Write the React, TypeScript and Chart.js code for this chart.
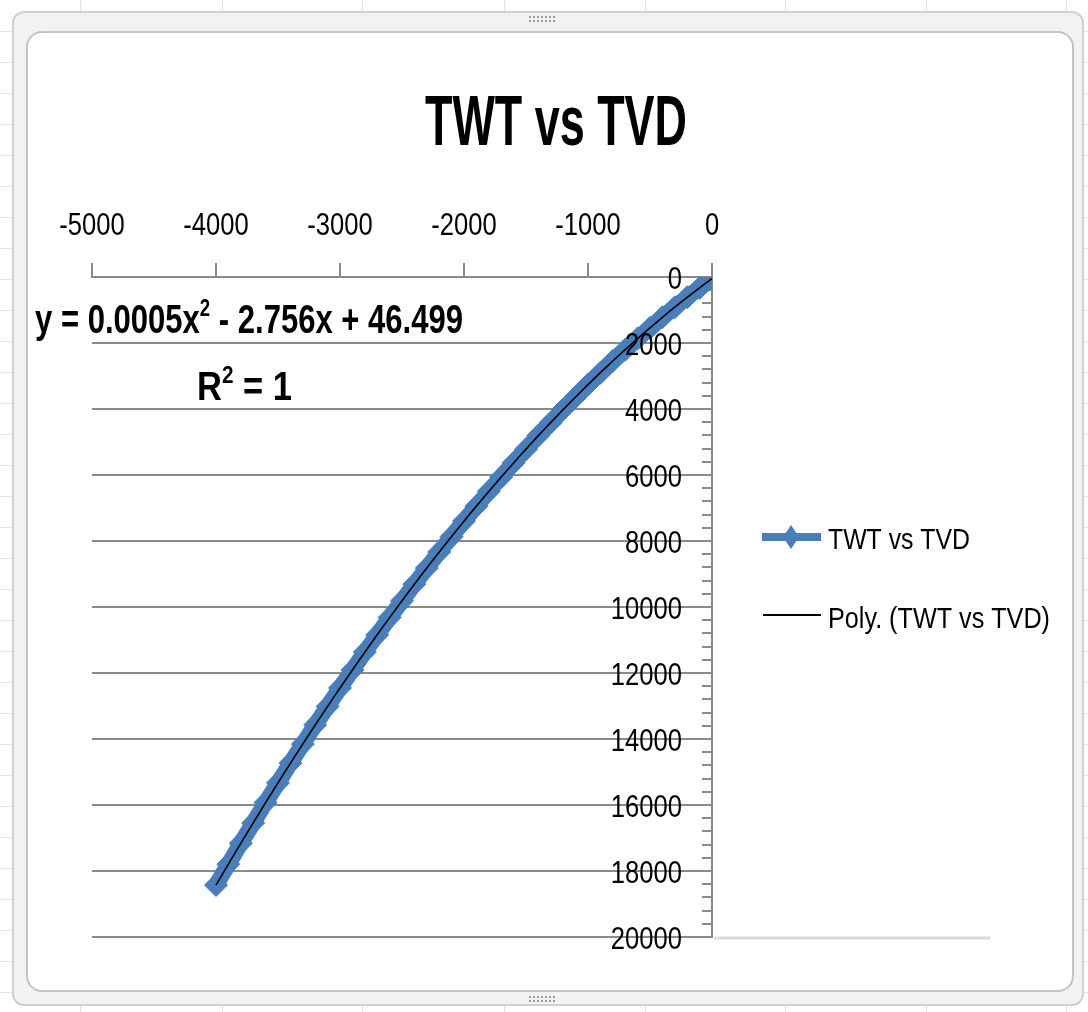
import React, { useEffect, useRef } from "react";
import { Chart, registerables } from "chart.js";

Chart.register(...registerables);

// Two-way time (negative, plotted leftwards) and true vertical depth pairs
const twtValues = [
  0, -100, -200, -300, -400, -500, -600, -700, -800, -900,
  -1000, -1100, -1200, -1300, -1400, -1500, -1600, -1700, -1800, -1900,
  -2000, -2100, -2200, -2300, -2400, -2500, -2600, -2700, -2800, -2900,
  -3000, -3100, -3200, -3300, -3400, -3500, -3600, -3700, -3800, -3900,
  -4000,
];
const tvdValues = [
  40, 330, 612, 918, 1220, 1542, 1863, 2205, 2543, 2902,
  3259, 3637, 4013, 4410, 4804, 5218, 5631, 6064, 6495, 6946,
  7396, 7866, 8333, 8821, 9307, 9815, 10318, 10845, 11366, 11911,
  12452, 13014, 13572, 14155, 14730, 15331, 15925, 16545, 17158, 17795,
  18428,
];

// Second-order polynomial trendline: y = a x^2 + b x + c
const trendCoefficients = [0.00046, -2.756, 46.499];
const rSquared = 1;

const chartTitle = "TWT vs TVD";
const seriesName = "TWT vs TVD";
const trendName = "Poly. (TWT vs TVD)";

const xAxisRange = [-5000, 0];
const xAxisStep = 1000;
const yAxisRange = [0, 20000];
const yAxisStep = 2000;
const yMinorStep = 400;

const BLUE = "#4a7ebb";
const GRID_GREY = "#8a8a8a";
const SANS = "'Liberation Sans', Arial, sans-serif";
// Horizontal squeeze applied to the axis labels, giving the condensed look
const SQUEEZE = 0.8;

type Piece = { text: string; size: number; rise?: number };

// Draws a run of text pieces (allowing superscripts), squeezed horizontally.
// `squeeze` > 0 is a fixed factor; a negative value means "fit to this many pixels".
function drawRun(
  ctx: CanvasRenderingContext2D,
  pieces: Piece[],
  weight: string,
  x: number,
  baseline: number,
  squeeze: number,
  align: "left" | "center" | "right"
) {
  ctx.save();
  let total = 0;
  const widths = pieces.map((p) => {
    ctx.font = `${weight} ${p.size}px ${SANS}`;
    const w = ctx.measureText(p.text).width;
    total += w;
    return w;
  });
  const sx = squeeze > 0 ? squeeze : -squeeze / total;
  const start = align === "left" ? 0 : align === "center" ? -total / 2 : -total;
  ctx.translate(x, baseline);
  ctx.scale(sx, 1);
  ctx.textAlign = "left";
  ctx.textBaseline = "alphabetic";
  ctx.fillStyle = "#000";
  let cx = start;
  pieces.forEach((p, i) => {
    ctx.font = `${weight} ${p.size}px ${SANS}`;
    ctx.fillText(p.text, cx, -(p.rise || 0));
    cx += widths[i];
  });
  ctx.restore();
}

function equationPieces(coeffs: number[], size: number): Piece[] {
  const [a, b, c] = coeffs;
  const sign = (v: number) => (v < 0 ? "-" : "+");
  return [
    { text: `y = ${a.toFixed(4)}x`, size },
    { text: "2", size: Math.round(size * 0.6), rise: size * 0.42 },
    { text: ` ${sign(b)} ${Math.abs(b).toFixed(3)}x ${sign(c)} ${Math.abs(c).toFixed(3)}`, size },
  ];
}

const excelDecor = {
  id: "excelDecor",
  beforeDatasetsDraw(chart: any) {
    const { ctx, chartArea } = chart;
    const y = chart.scales.y;
    ctx.save();
    ctx.strokeStyle = GRID_GREY;
    ctx.lineWidth = 2;
    for (let v = yAxisRange[0]; v <= yAxisRange[1]; v += yMinorStep) {
      const py = Math.round(y.getPixelForValue(v));
      ctx.beginPath();
      ctx.moveTo(chartArea.right - 10, py);
      ctx.lineTo(chartArea.right, py);
      ctx.stroke();
    }
    // faint plot-floor line continuing past the vertical axis
    ctx.strokeStyle = "#dadada";
    ctx.lineWidth = 3;
    const floor = Math.round(y.getPixelForValue(yAxisRange[1]));
    ctx.beginPath();
    ctx.moveTo(chartArea.right + 2, floor + 1);
    ctx.lineTo(chartArea.right + 278, floor + 1);
    ctx.stroke();
    ctx.restore();
  },
  afterDraw(chart: any) {
    const ctx: CanvasRenderingContext2D = chart.ctx;
    const { chartArea } = chart;
    const xs = chart.scales.x;
    const ys = chart.scales.y;

    // Tick labels along the top axis
    xs.ticks.forEach((t: any) => {
      const px = xs.getPixelForValue(t.value);
      drawRun(ctx, [{ text: String(t.value), size: 32 }], "normal", px, chartArea.top - 42, SQUEEZE, "center");
    });
    // Tick labels of the depth axis, sitting inside the plot next to the axis
    ys.ticks.forEach((t: any) => {
      const py = ys.getPixelForValue(t.value);
      drawRun(ctx, [{ text: String(t.value), size: 32 }], "normal", chartArea.right - 30, py + 11.5, SQUEEZE, "right");
    });

    // Chart title
    drawRun(ctx, [{ text: chartTitle, size: 70 }], "bold", 556, 145, -262, "center");

    // Trendline equation and R²
    drawRun(ctx, equationPieces(trendCoefficients, 40), "bold", 35, 333, -428, "left");
    drawRun(
      ctx,
      [
        { text: "R", size: 40 },
        { text: "2", size: 24, rise: 17 },
        { text: ` = ${rSquared}`, size: 40 },
      ],
      "bold",
      197,
      400,
      -95,
      "left"
    );

    // Legend
    ctx.save();
    ctx.strokeStyle = BLUE;
    ctx.lineWidth = 8;
    ctx.beginPath();
    ctx.moveTo(762, 537);
    ctx.lineTo(821, 537);
    ctx.stroke();
    ctx.fillStyle = BLUE;
    ctx.beginPath();
    ctx.moveTo(791, 525);
    ctx.lineTo(799, 537);
    ctx.lineTo(791, 549);
    ctx.lineTo(783, 537);
    ctx.closePath();
    ctx.fill();
    ctx.strokeStyle = "#000";
    ctx.lineWidth = 2;
    ctx.beginPath();
    ctx.moveTo(763, 615);
    ctx.lineTo(821, 615);
    ctx.stroke();
    ctx.restore();
    drawRun(ctx, [{ text: seriesName, size: 30 }], "normal", 828, 549, -142, "left");
    drawRun(ctx, [{ text: trendName, size: 30 }], "normal", 828, 628, -222, "left");
  },
};

const sheetColumns = [80, 222, 362, 504, 645, 785, 926, 1066];
const sheetRows = Array.from({ length: 33 }, (_, i) => 31 + i * 31);

export default function App() {
  const ref = useRef<HTMLCanvasElement>(null);

  useEffect(() => {
    const canvas = ref.current;
    if (!canvas) return;

    const points = twtValues.map((x, i) => ({ x, y: tvdValues[i] }));
    const [a, b, c] = trendCoefficients;
    const xMin = Math.min(...twtValues);
    const xMax = Math.max(...twtValues);
    const trendPoints = Array.from({ length: 81 }, (_, i) => {
      const x = xMin + ((xMax - xMin) * i) / 80;
      return { x, y: a * x * x + b * x + c };
    });

    const chart = new Chart(canvas, {
      type: "scatter",
      data: {
        datasets: [
          {
            label: seriesName,
            data: points,
            showLine: true,
            borderColor: BLUE,
            backgroundColor: BLUE,
            borderWidth: 16,
            pointStyle: "rectRot",
            pointRadius: 11.5,
            pointBorderWidth: 1,
            pointBorderColor: BLUE,
            pointBackgroundColor: BLUE,
            order: 1,
          },
          {
            label: trendName,
            data: trendPoints,
            showLine: true,
            borderColor: "#000",
            borderWidth: 1.6,
            pointRadius: 0,
            order: 0,
          },
        ],
      },
      options: {
        animation: false,
        responsive: false,
        devicePixelRatio: 1,
        layout: { padding: { left: 92, right: 376, top: 263, bottom: 75 } },
        plugins: {
          legend: { display: false },
          title: { display: false },
          tooltip: { enabled: false },
        },
        scales: {
          x: {
            type: "linear",
            position: "top",
            min: xAxisRange[0],
            max: xAxisRange[1],
            ticks: { stepSize: xAxisStep, display: false },
            grid: {
              drawOnChartArea: false,
              drawTicks: true,
              tickLength: 14,
              color: GRID_GREY,
              lineWidth: 2,
            },
            border: { display: true, color: GRID_GREY, width: 2 },
          },
          y: {
            type: "linear",
            position: "right",
            reverse: true,
            min: yAxisRange[0],
            max: yAxisRange[1],
            ticks: { stepSize: yAxisStep, display: false },
            grid: { color: GRID_GREY, lineWidth: 2, drawTicks: false },
            border: { display: true, color: GRID_GREY, width: 2 },
          },
        },
      },
      plugins: [excelDecor],
    } as any);

    return () => chart.destroy();
  }, []);

  const dots = {
    backgroundImage: "radial-gradient(circle, #9c9c9c 1px, transparent 1.4px)",
    backgroundSize: "4px 4px",
  };

  return (
    <div
      style={{
        position: "fixed",
        left: 0,
        top: 0,
        width: 1088,
        height: 1012,
        background: "#fff",
        overflow: "hidden",
      }}
    >
      {sheetColumns.map((x) => (
        <div key={`c${x}`} style={{ position: "absolute", left: x, top: 0, width: 1, height: 1012, background: "#e2e2e2" }} />
      ))}
      {sheetRows.map((y) => (
        <div key={`r${y}`} style={{ position: "absolute", left: 0, top: y, width: 1088, height: 1, background: "#e6e6e6" }} />
      ))}
      <div
        style={{
          position: "absolute",
          left: 12,
          top: 11,
          width: 1072,
          height: 995,
          boxSizing: "border-box",
          border: "2px solid #d0d0d0",
          borderRadius: 12,
          background: "#f2f2f2",
        }}
      />
      <div
        style={{
          position: "absolute",
          left: 26,
          top: 31,
          width: 1048,
          height: 961,
          boxSizing: "border-box",
          border: "2px solid #c4c4c4",
          borderRadius: 16,
          background: "#fff",
        }}
      />
      <div style={{ position: "absolute", left: 528, top: 15, width: 28, height: 8, ...dots }} />
      <div style={{ position: "absolute", left: 528, top: 995, width: 28, height: 8, ...dots }} />
      <canvas
        ref={ref}
        width={1088}
        height={1012}
        style={{ position: "absolute", left: 0, top: 0, width: 1088, height: 1012 }}
      />
    </div>
  );
}
